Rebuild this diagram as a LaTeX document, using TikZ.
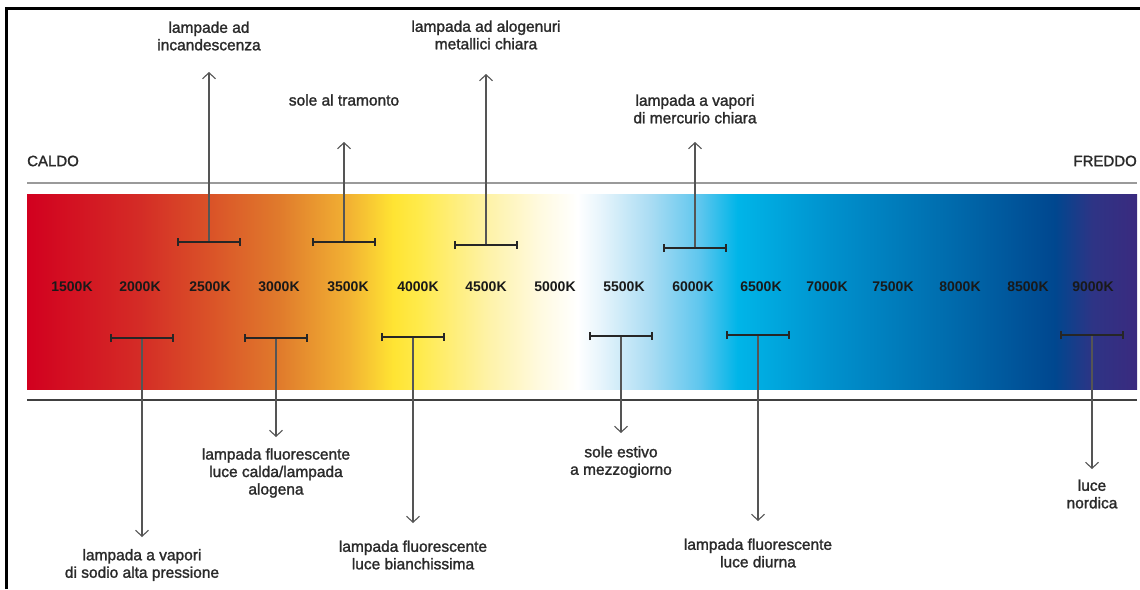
\documentclass[tikz,border=0pt]{standalone}
\usepackage{fontspec}
\setmainfont{Liberation Sans}
\newfontfamily\medfont{Liberation Sans}[FakeBold=1.6]
\usepackage{tikz}
\usetikzlibrary{arrows.meta,calc,positioning}

\definecolor{inkdark}{HTML}{2A2A2A}
\definecolor{rulegray}{HTML}{9A9A9A}
\definecolor{raygray}{HTML}{555555}
% colour stops of the scale
\definecolor{ka}{HTML}{D2001F}
\definecolor{kb}{HTML}{D42C26}
\definecolor{kc}{HTML}{DA5228}
\definecolor{kd}{HTML}{E07B2C}
\definecolor{ke}{HTML}{F2B233}
\definecolor{kf}{HTML}{FFE433}
\definecolor{kg}{HTML}{FFEA4A}
\definecolor{kh}{HTML}{FEF2A6}
\definecolor{ki}{HTML}{FFFAE0}
\definecolor{kj}{HTML}{FFFFFF}
\definecolor{kk}{HTML}{E8F5FC}
\definecolor{kl}{HTML}{A9DCF3}
\definecolor{km}{HTML}{5EC6EE}
\definecolor{kn}{HTML}{00B5E8}
\definecolor{ko}{HTML}{0091CD}
\definecolor{kp}{HTML}{0068AA}
\definecolor{kq}{HTML}{00478F}
\definecolor{kr}{HTML}{2E3485}
\definecolor{ks}{HTML}{3A2A7F}

% the path fills the middle 50bp
\pgfdeclarehorizontalshading{kelvinbar}{100bp}{%
  color(0bp)=(ka); color(25bp)=(ka); color(30.1bp)=(kb);
  color(33.2bp)=(kc); color(36.4bp)=(kd); color(39.5bp)=(ke);
  color(41.5bp)=(kf); color(42.6bp)=(kg); color(45.7bp)=(kh);
  color(48.1bp)=(ki); color(49.8bp)=(kj); color(50.8bp)=(kk);
  color(53.1bp)=(kl); color(55.3bp)=(km); color(57bp)=(kn);
  color(61.2bp)=(ko); color(67bp)=(kp); color(71.3bp)=(kq);
  color(73bp)=(kr); color(75bp)=(ks); color(100bp)=(ks)}

\begin{document}
\begin{tikzpicture}
[x=1pt,y=-1pt,
 kval/.style={font=\bfseries\fontsize{14}{16}\selectfont,text=black!90,inner sep=0pt},
 note/.style={font=\medfont\fontsize{15.5}{17.5}\selectfont,text=inkdark,align=center,inner sep=0pt},
 side/.style={font=\medfont\fontsize{15}{17}\selectfont,text=inkdark,inner sep=0pt},
 span/.style={draw=black!85,line width=1.8pt,{Bar[width=8pt]}-{Bar[width=8pt]}},
 ray/.style={draw=raygray,line width=1.1pt,-{Straight Barb[length=6pt,width=13pt]}}]
\useasboundingbox (0,0) rectangle (1140,589);
% frame
\draw[line width=2.7pt] (6.5,589) -- (6.5,8.5) -- (1140,8.5);
%%
\shade[shading=kelvinbar] (27,194) rectangle (1137,389);
\draw[rulegray,line width=2pt] (27,183) -- (1137,183);
\draw[black!75,line width=1.2pt] (27,400) -- (1137,400);
\node[side,anchor=west] (caldo) at (27,161) {CALDO};
\node[side,anchor=east] (freddo) at (1137,161) {FREDDO};
%%
\foreach \t/\x in {1500/72,2000/140,2500/210,3000/279,3500/348,4000/418,
  4500/486,5000/555,5500/624,6000/693,6500/761,7000/827,7500/893,
  8000/960,8500/1028,9000/1093}
{
  \node[kval] (k\t) at (\x,287) {\t K};
};
%% sources above and below the scale
\foreach \n/\x/\yb/\yt/\yl/\txt in {
  inc/209/242/72/36/{lampade ad\\incandescenza},
  tram/344/242/142/100/{sole al tramonto},
  alog/486/245/74/35/{lampada ad alogenuri\\metallici chiara},
  merc/695/248/142/109/{lampada a vapori\\di mercurio chiara},
  sod/142/338/537/565/{lampada a vapori\\di sodio alta pressione},
  calda/276/338/437/473/{lampada fluorescente\\luce calda/lampada\\alogena},
  bian/413/337/523/555/{lampada fluorescente\\luce bianchissima},
  mezz/621/336/433/462/{sole estivo\\a mezzogiorno},
  diur/758/335/521/553/{lampada fluorescente\\luce diurna},
  nord/1092/335/469/494/{luce\\nordica}}
{
  \coordinate (b\n) at (\x,\yb);
  \coordinate (t\n) at (\x,\yt);
  \node[note] (l\n) at (\x,\yl) {\txt};
  \draw[ray] (b\n) -- (t\n);
  \draw[span] ([xshift=-32pt]b\n) -- ([xshift=32pt]b\n);
};
\end{tikzpicture}
\end{document}
